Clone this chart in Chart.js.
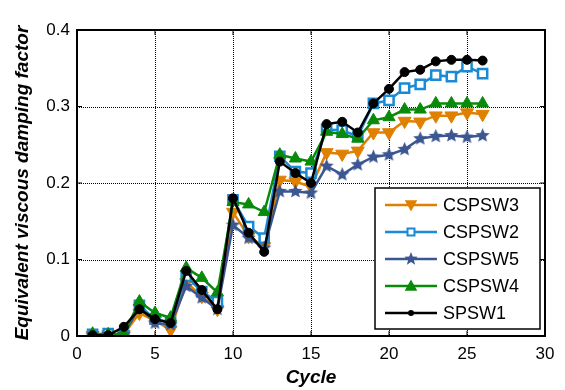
<!DOCTYPE html>
<html>
<head>
<meta charset="utf-8">
<script src="https://cdn.jsdelivr.net/npm/chart.js@4"></script>
<style>
  html, body { margin: 0; padding: 0; background: #fff; }
  #wrap { width: 565px; height: 390px; }
</style>
</head>
<body>
<div id="wrap"><canvas id="chart" width="565" height="390"></canvas></div>
<script>
// --- data ---
const cycles = [1, 2, 3, 4, 5, 6, 7, 8, 9, 10, 11, 12, 13, 14, 15, 16, 17, 18, 19, 20, 21, 22, 23, 24, 25, 26];
const seriesNames = ['CSPSW3', 'CSPSW2', 'CSPSW5', 'CSPSW4', 'SPSW1'];
const cspsw3 = [0.001, 0.002, 0.002, 0.030, 0.020, 0.008, 0.070, 0.052, 0.035, 0.162, 0.130, 0.117, 0.204, 0.202, 0.195, 0.240, 0.238, 0.242, 0.266, 0.266, 0.281, 0.280, 0.288, 0.288, 0.292, 0.290];
const cspsw2 = [0.002, 0.003, 0.001, 0.040, 0.022, 0.018, 0.078, 0.058, 0.045, 0.178, 0.143, 0.128, 0.235, 0.215, 0.213, 0.270, 0.269, 0.261, 0.304, 0.308, 0.324, 0.329, 0.341, 0.339, 0.352, 0.343];
const cspsw5 = [0.001, 0.002, 0.002, 0.038, 0.017, 0.015, 0.065, 0.050, 0.035, 0.145, 0.128, 0.115, 0.189, 0.189, 0.187, 0.222, 0.211, 0.224, 0.234, 0.237, 0.244, 0.258, 0.261, 0.262, 0.260, 0.262];
const cspsw4 = [0.003, 0.002, 0.003, 0.045, 0.030, 0.024, 0.089, 0.076, 0.057, 0.175, 0.172, 0.162, 0.237, 0.232, 0.228, 0.267, 0.264, 0.258, 0.282, 0.286, 0.296, 0.296, 0.304, 0.304, 0.304, 0.304];
const spsw1 = [0.001, 0.001, 0.012, 0.035, 0.022, 0.017, 0.085, 0.060, 0.035, 0.180, 0.135, 0.110, 0.228, 0.213, 0.200, 0.277, 0.280, 0.266, 0.304, 0.323, 0.345, 0.348, 0.359, 0.361, 0.361, 0.360];
const xTicks = [0, 5, 10, 15, 20, 25, 30];
const yTicks = [0, 0.1, 0.2, 0.3, 0.4];

const FONT = "'Liberation Sans', Arial, sans-serif";
const colors = {
    orange: '#E08000',
    blue: '#1A8AD4',
    navy: '#3B5690',
    green: '#0A8A0A',
    black: '#000000'
};

// filled five point star for CSPSW5
function makeStar(color, r) {
    const s = Math.ceil(r * 2 + 2);
    const c = document.createElement('canvas');
    c.width = s; c.height = s;
    const ctx = c.getContext('2d');
    ctx.beginPath();
    for (let i = 0; i < 10; i++) {
        const rad = i % 2 === 0 ? r : r * 0.45;
        const a = -Math.PI / 2 + i * Math.PI / 5;
        ctx.lineTo(s / 2 + rad * Math.cos(a), s / 2 + rad * Math.sin(a));
    }
    ctx.closePath();
    ctx.fillStyle = color;
    ctx.fill();
    return c;
}
const starImg = makeStar(colors.navy, 7.5);

function pts(values) {
    return cycles.map((c, i) => ({ x: c, y: values[i] }));
}

const datasets = [
    { label: seriesNames[0], data: pts(cspsw3), borderColor: colors.orange, backgroundColor: colors.orange,
      pointStyle: 'triangle', rotation: 180, pointRadius: 7.5, order: 5 },
    { label: seriesNames[1], data: pts(cspsw2), borderColor: colors.blue, backgroundColor: '#ffffff',
      pointStyle: 'rect', pointRadius: 6.5, pointBorderWidth: 2.5, order: 4 },
    { label: seriesNames[2], data: pts(cspsw5), borderColor: colors.navy, backgroundColor: colors.navy,
      pointStyle: starImg, pointRadius: 7.5, order: 3 },
    { label: seriesNames[3], data: pts(cspsw4), borderColor: colors.green, backgroundColor: colors.green,
      pointStyle: 'triangle', pointRadius: 7, order: 2 },
    { label: seriesNames[4], data: pts(spsw1), borderColor: colors.black, backgroundColor: colors.black,
      pointStyle: 'circle', pointRadius: 4.5, order: 1 }
].map(d => Object.assign({ borderWidth: 2.5, tension: 0, pointBorderWidth: d.pointBorderWidth || 1 }, d));

// dotted grid, drawn from the scales' own tick positions
const gridPlugin = {
    id: 'dotGrid',
    beforeDatasetsDraw(chart) {
        const { ctx, chartArea: a, scales } = chart;
        ctx.save();
        ctx.strokeStyle = '#000';
        ctx.lineWidth = 1;
        ctx.setLineDash([1, 1]);
        ctx.beginPath();
        xTicks.forEach(t => {
            const x = Math.round(scales.x.getPixelForValue(t)) + 0.5;
            ctx.moveTo(x, a.top); ctx.lineTo(x, a.bottom);
        });
        yTicks.forEach(t => {
            const y = Math.round(scales.y.getPixelForValue(t)) + 0.5;
            ctx.moveTo(a.left, y); ctx.lineTo(a.right, y);
        });
        ctx.stroke();
        ctx.restore();
    }
};

// frame + inward ticks, like the original
const framePlugin = {
    id: 'frame',
    afterDatasetsDraw(chart) {
        const { ctx, chartArea: a, scales } = chart;
        ctx.save();
        ctx.strokeStyle = '#000';
        ctx.lineWidth = 2;
        ctx.strokeRect(a.left, a.top, a.right - a.left, a.bottom - a.top);
        ctx.lineWidth = 1;
        ctx.beginPath();
        xTicks.forEach(t => {
            const x = scales.x.getPixelForValue(t);
            ctx.moveTo(x, a.bottom); ctx.lineTo(x, a.bottom - 5);
            ctx.moveTo(x, a.top); ctx.lineTo(x, a.top + 5);
        });
        yTicks.forEach(t => {
            const y = scales.y.getPixelForValue(t);
            ctx.moveTo(a.left, y); ctx.lineTo(a.left + 5, y);
            ctx.moveTo(a.right, y); ctx.lineTo(a.right - 5, y);
        });
        ctx.stroke();
        ctx.restore();
    }
};

function drawMarker(ctx, ds, x, y) {
    ctx.save();
    ctx.fillStyle = ds.backgroundColor;
    ctx.strokeStyle = ds.borderColor;
    ctx.lineWidth = 1.5;
    if (ds.pointStyle === starImg) {
        const r = 5;
        ctx.beginPath();
        for (let i = 0; i < 10; i++) {
            const rad = i % 2 === 0 ? r * 1.4 : r * 0.6;
            const a = -Math.PI / 2 + i * Math.PI / 5;
            ctx.lineTo(x + rad * Math.cos(a), y + rad * Math.sin(a));
        }
        ctx.closePath();
        ctx.fill();
    } else if (ds.pointStyle === 'rect') {
        ctx.lineWidth = 2;
        ctx.fillRect(x - 3.5, y - 3.5, 7, 7);
        ctx.strokeRect(x - 3.5, y - 3.5, 7, 7);
    } else if (ds.pointStyle === 'circle') {
        ctx.beginPath(); ctx.arc(x, y, 3, 0, Math.PI * 2); ctx.fill();
    } else {
        const s = ds.rotation === 180 ? -1 : 1;
        ctx.beginPath();
        ctx.moveTo(x, y - 5 * s);
        ctx.lineTo(x + 5, y + 4 * s);
        ctx.lineTo(x - 5, y + 4 * s);
        ctx.closePath();
        ctx.fill();
        ctx.stroke();
    }
    ctx.restore();
}

// legend box inside the plot, lower right
const legendPlugin = {
    id: 'boxLegend',
    afterDraw(chart) {
        const { ctx } = chart;
        const bx = 375, by = 188, bw = 165, bh = 141;
        ctx.save();
        ctx.fillStyle = '#fff';
        ctx.fillRect(bx, by, bw, bh);
        ctx.strokeStyle = '#000';
        ctx.lineWidth = 1.5;
        ctx.strokeRect(bx, by, bw, bh);
        ctx.font = '18px ' + FONT;
        ctx.textBaseline = 'middle';
        chart.data.datasets.forEach((ds, i) => {
            const y = by + 17 + i * 27;
            ctx.strokeStyle = ds.borderColor;
            ctx.lineWidth = 2.5;
            ctx.beginPath(); ctx.moveTo(385, y); ctx.lineTo(437, y); ctx.stroke();
            drawMarker(ctx, ds, 411, y);
            ctx.fillStyle = '#000';
            ctx.fillText(ds.label, 443, y + 1);
        });
        ctx.restore();
    }
};

new Chart(document.getElementById('chart'), {
    type: 'line',
    data: { datasets },
    options: {
        responsive: false,
        animation: false,
        layout: { padding: { left: 0, right: 20, top: 30, bottom: 0 } },
        plugins: { legend: { display: false }, tooltip: { enabled: false } },
        scales: {
            x: {
                type: 'linear', min: 0, max: 30,
                afterBuildTicks: s => { s.ticks = xTicks.map(v => ({ value: v })); },
                afterFit: s => { s.height = 54; },
                grid: { display: false, drawTicks: false },
                border: { display: false },
                ticks: { color: '#000', font: { family: FONT, size: 17 }, padding: 8, maxRotation: 0 },
                title: { display: true, text: 'Cycle', color: '#000',
                         font: { family: FONT, size: 19, weight: 'bold', style: 'italic' }, padding: { top: 0, bottom: 1 } }
            },
            y: {
                type: 'linear', min: 0, max: 0.4,
                afterBuildTicks: s => { s.ticks = yTicks.map(v => ({ value: v })); },
                afterFit: s => { s.width = 77; },
                grid: { display: false, drawTicks: false },
                border: { display: false },
                ticks: { color: '#000', font: { family: FONT, size: 17 }, padding: 7,
                         callback: v => v === 0 ? '0' : String(Math.round(v * 10) / 10) },
                title: { display: true, text: 'Equivalent viscous damping factor', color: '#000',
                         font: { family: FONT, size: 19, weight: 'bold', style: 'italic' }, padding: { top: 11, bottom: 0 } }
            }
        }
    },
    plugins: [gridPlugin, framePlugin, legendPlugin]
});
</script>
</body>
</html>
